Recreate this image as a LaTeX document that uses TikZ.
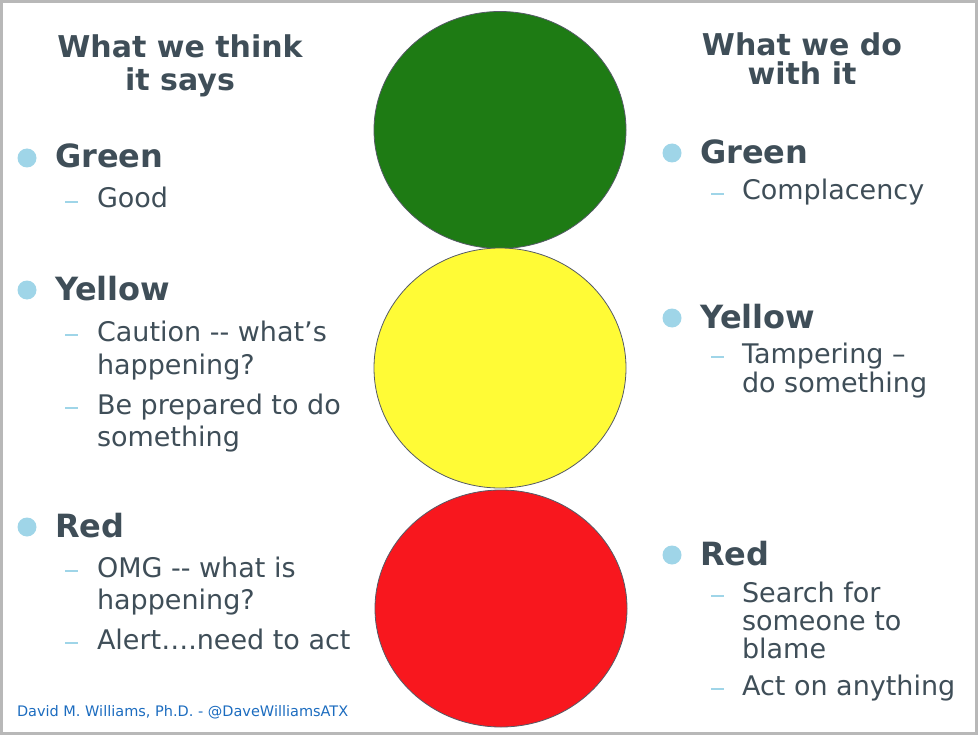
\documentclass[tikz,border=0pt]{standalone}
\usepackage{fontspec}
\setmainfont{DejaVu Sans}
\usetikzlibrary{shapes.geometric}
\definecolor{txt}{HTML}{3F4E58}
\definecolor{bul}{HTML}{9FD5E8}
\definecolor{foot}{HTML}{1C6CBF}
\definecolor{tlgreen}{HTML}{1E7B14}
\definecolor{tlyellow}{HTML}{FFFB36}
\definecolor{tlred}{HTML}{F8171E}
\definecolor{rim}{HTML}{555A66}
\definecolor{framegrey}{HTML}{B8B8B8}
\begin{document}
\begin{tikzpicture}[x=1pt,y=-1pt,
  every node/.style={inner sep=0pt, outer sep=0pt},
  title/.style={anchor=base, text=txt, font=\fontsize{30}{33}\selectfont\bfseries},
  head/.style={anchor=base west, text=txt, font=\fontsize{32}{36}\selectfont\bfseries},
  item/.style={anchor=base west, text=txt, font=\fontsize{27}{30}\selectfont},
  dashmark/.style={rectangle, fill=bul, minimum width=13pt, minimum height=1.8pt, anchor=west},
  dot/.style={circle, fill=bul, minimum size=19pt},
  light/.style={ellipse, draw=rim, line width=0.8pt, minimum width=252pt, minimum height=237pt},
  credit/.style={anchor=base west, text=foot, font=\fontsize{14.5}{18}\selectfont}
]
\useasboundingbox (0,0) rectangle (979,735);
\draw[framegrey, line width=3pt] (1.5,1.5) rectangle (976,733.5);

% traffic lights
\node[light, fill=tlgreen] (greenlight) at (500,130) {};
\node[light, fill=tlyellow, minimum height=240pt] (yellowlight) at (500,368) {};
\node[light, fill=tlred] (redlight) at (501,608.5) {};

% left column
\node[title] (lt1) at (180,58) {What we think};
\node[title] (lt2) at (180,91) {it says};

\node[dot] (lgdot) at (27,158) {};
\node[head] (lg) at (55,168) {Green};
\node[dashmark] (lgd1) at (65,202) {};
\node[item] (lg1) at (97,208) {Good};

\node[dot] (lydot) at (27,290) {};
\node[head] (ly) at (55,300) {Yellow};
\node[dashmark] (lyd1) at (65,335) {};
\node[item] (ly1a) at (97,341) {Caution -{}- what’s};
\node[item] (ly1b) at (97,374) {happening?};
\node[dashmark] (lyd2) at (65,408) {};
\node[item] (ly2a) at (97,414) {Be prepared to do};
\node[item] (ly2b) at (97,446) {something};

\node[dot] (lrdot) at (27,527) {};
\node[head] (lr) at (55,537) {Red};
\node[dashmark] (lrd1) at (65,571) {};
\node[item] (lr1a) at (97,577) {OMG -{}- what is};
\node[item] (lr1b) at (97,609) {happening?};
\node[dashmark] (lrd2) at (65,643) {};
\node[item] (lr2) at (97,649) {Alert….need to act};

% right column
\node[title] (rt1) at (802,56) {What we do};
\node[title] (rt2) at (802,85) {with it};

\node[dot] (rgdot) at (672,153) {};
\node[head] (rg) at (700,164) {Green};
\node[dashmark] (rgd1) at (711,194) {};
\node[item] (rg1) at (742,200) {Complacency};

\node[dot] (rydot) at (672,318) {};
\node[head] (ry) at (700,328) {Yellow};
\node[dashmark] (ryd1) at (711,357) {};
\node[item] (ry1a) at (742,363) {Tampering –};
\node[item] (ry1b) at (742,392) {do something};

\node[dot] (rrdot) at (672,555) {};
\node[head] (rr) at (700,565) {Red};
\node[dashmark] (rrd1) at (711,596) {};
\node[item] (rr1a) at (742,602) {Search for};
\node[item] (rr1b) at (742,630) {someone to};
\node[item] (rr1c) at (742,658) {blame};
\node[dashmark] (rrd2) at (711,689) {};
\node[item] (rr2) at (742,695) {Act on anything};

% footer
\node[credit] (credit) at (17,716) {David M. Williams, Ph.D. - @DaveWilliamsATX};
\end{tikzpicture}
\end{document}
